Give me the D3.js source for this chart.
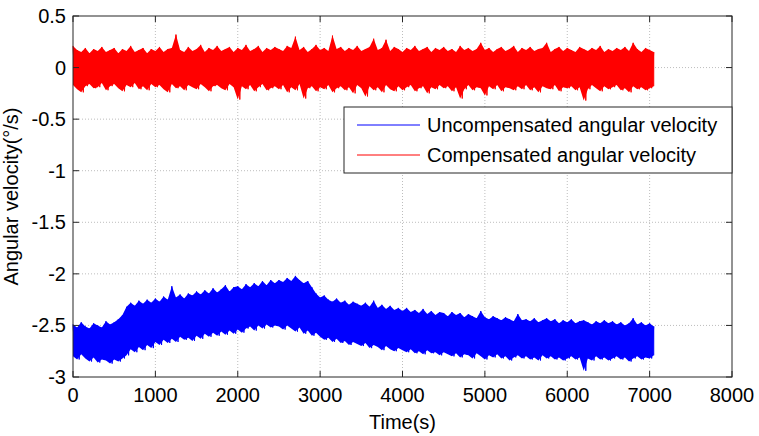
<!DOCTYPE html>
<html>
<head>
<meta charset="utf-8">
<script src="https://cdn.jsdelivr.net/npm/d3@7"></script>
<style>
  body { margin: 0; background: #fff; }
  text { font-family: Arial, "Liberation Sans", Helvetica, sans-serif; fill: #000; }
</style>
</head>
<body>
<svg id="chart" width="759" height="436"></svg>
<script>
// envelope of the two noisy signals, one sample every 50 s from 0 to 7050 s
const SAMPLE_STEP = 50;

const xTicks = [0, 1000, 2000, 3000, 4000, 5000, 6000, 7000, 8000];
const yTicks = [-3, -2.5, -2, -1.5, -1, -0.5, 0, 0.5];

const seriesNames = ["Uncompensated angular velocity", "Compensated angular velocity"];
const seriesColors = ["#0000ff", "#ff0000"];

// compensated (red) - upper and lower excursion
const compHigh = [
  0.21,0.17,0.15,0.19,0.14,0.18,0.16,0.20,0.15,0.17,
  0.19,0.14,0.18,0.16,0.21,0.15,0.17,0.19,0.14,0.18,
  0.16,0.20,0.15,0.18,0.19,0.32,0.17,0.15,0.20,0.16,
  0.18,0.22,0.15,0.19,0.17,0.21,0.16,0.18,0.20,0.15,
  0.19,0.17,0.22,0.16,0.18,0.21,0.15,0.19,0.17,0.20,
  0.18,0.16,0.21,0.19,0.30,0.17,0.20,0.15,0.18,0.22,
  0.17,0.19,0.16,0.31,0.18,0.20,0.16,0.19,0.17,0.21,
  0.16,0.18,0.20,0.28,0.17,0.19,0.27,0.16,0.20,0.18,
  0.15,0.19,0.17,0.21,0.16,0.18,0.20,0.15,0.19,0.17,
  0.20,0.16,0.18,0.15,0.21,0.17,0.19,0.16,0.18,0.24,
  0.17,0.19,0.15,0.18,0.20,0.16,0.18,0.21,0.15,0.19,
  0.17,0.20,0.16,0.18,0.19,0.24,0.15,0.18,0.20,0.16,
  0.19,0.17,0.15,0.20,0.18,0.16,0.19,0.17,0.21,0.15,
  0.18,0.16,0.19,0.17,0.20,0.16,0.24,0.18,0.15,0.19,
  0.17,0.15
];
const compLow = [
  -0.17,-0.21,-0.24,-0.18,-0.16,-0.20,-0.19,-0.15,-0.22,-0.18,
  -0.16,-0.20,-0.23,-0.17,-0.19,-0.15,-0.21,-0.18,-0.22,-0.16,
  -0.19,-0.17,-0.21,-0.24,-0.16,-0.20,-0.18,-0.22,-0.17,-0.19,
  -0.21,-0.16,-0.19,-0.23,-0.18,-0.17,-0.20,-0.22,-0.16,-0.19,
  -0.31,-0.18,-0.21,-0.17,-0.23,-0.19,-0.16,-0.22,-0.20,-0.18,
  -0.21,-0.17,-0.24,-0.19,-0.22,-0.16,-0.30,-0.20,-0.18,-0.23,
  -0.19,-0.21,-0.17,-0.24,-0.20,-0.18,-0.22,-0.19,-0.25,-0.17,
  -0.20,-0.28,-0.18,-0.22,-0.19,-0.24,-0.17,-0.21,-0.23,-0.18,
  -0.22,-0.19,-0.17,-0.23,-0.20,-0.18,-0.25,-0.19,-0.21,-0.17,
  -0.20,-0.18,-0.23,-0.19,-0.30,-0.21,-0.17,-0.22,-0.19,-0.20,
  -0.27,-0.18,-0.21,-0.17,-0.23,-0.19,-0.20,-0.22,-0.18,-0.21,
  -0.17,-0.22,-0.19,-0.24,-0.18,-0.20,-0.21,-0.17,-0.23,-0.19,
  -0.20,-0.18,-0.22,-0.19,-0.32,-0.21,-0.17,-0.20,-0.23,-0.18,
  -0.21,-0.19,-0.17,-0.22,-0.20,-0.24,-0.18,-0.21,-0.19,-0.22,
  -0.20,-0.18
];

// uncompensated (blue) - upper and lower excursion
const uncompHigh = [
  -2.49,-2.52,-2.47,-2.51,-2.53,-2.48,-2.50,-2.52,-2.46,-2.49,
  -2.47,-2.44,-2.40,-2.32,-2.28,-2.31,-2.26,-2.29,-2.25,-2.28,
  -2.24,-2.27,-2.22,-2.25,-2.12,-2.23,-2.20,-2.24,-2.19,-2.21,
  -2.17,-2.20,-2.16,-2.19,-2.14,-2.18,-2.15,-2.11,-2.17,-2.13,
  -2.12,-2.15,-2.10,-2.13,-2.09,-2.12,-2.07,-2.11,-2.06,-2.09,
  -2.06,-2.08,-2.04,-2.07,-2.02,-2.06,-2.09,-2.07,-2.13,-2.19,
  -2.23,-2.21,-2.25,-2.27,-2.24,-2.28,-2.26,-2.30,-2.27,-2.29,
  -2.31,-2.28,-2.32,-2.26,-2.33,-2.30,-2.34,-2.31,-2.35,-2.33,
  -2.36,-2.33,-2.37,-2.35,-2.38,-2.34,-2.39,-2.36,-2.40,-2.37,
  -2.38,-2.41,-2.37,-2.40,-2.38,-2.42,-2.39,-2.41,-2.43,-2.36,
  -2.42,-2.44,-2.41,-2.43,-2.45,-2.42,-2.44,-2.46,-2.39,-2.45,
  -2.44,-2.46,-2.43,-2.47,-2.45,-2.43,-2.46,-2.44,-2.48,-2.45,
  -2.47,-2.44,-2.48,-2.46,-2.45,-2.47,-2.49,-2.46,-2.48,-2.45,
  -2.48,-2.46,-2.49,-2.47,-2.50,-2.48,-2.43,-2.49,-2.47,-2.50,
  -2.48,-2.51
];
const uncompLow = [
  -2.80,-2.83,-2.78,-2.82,-2.85,-2.81,-2.86,-2.83,-2.84,-2.87,
  -2.83,-2.85,-2.82,-2.79,-2.73,-2.76,-2.71,-2.74,-2.69,-2.72,
  -2.66,-2.69,-2.64,-2.67,-2.63,-2.66,-2.61,-2.64,-2.62,-2.65,
  -2.60,-2.63,-2.58,-2.61,-2.57,-2.60,-2.56,-2.59,-2.55,-2.58,
  -2.54,-2.57,-2.53,-2.51,-2.55,-2.50,-2.53,-2.49,-2.52,-2.50,
  -2.51,-2.54,-2.50,-2.53,-2.56,-2.52,-2.58,-2.55,-2.60,-2.57,
  -2.61,-2.64,-2.62,-2.66,-2.63,-2.67,-2.65,-2.69,-2.66,-2.68,
  -2.70,-2.67,-2.72,-2.69,-2.71,-2.74,-2.70,-2.73,-2.75,-2.72,
  -2.74,-2.76,-2.73,-2.77,-2.75,-2.78,-2.74,-2.77,-2.76,-2.79,
  -2.76,-2.78,-2.80,-2.77,-2.81,-2.78,-2.79,-2.82,-2.77,-2.80,
  -2.83,-2.79,-2.81,-2.78,-2.82,-2.80,-2.84,-2.81,-2.79,-2.82,
  -2.80,-2.83,-2.81,-2.84,-2.79,-2.82,-2.80,-2.83,-2.81,-2.84,
  -2.82,-2.80,-2.83,-2.81,-2.94,-2.82,-2.84,-2.80,-2.83,-2.81,
  -2.84,-2.82,-2.80,-2.83,-2.81,-2.85,-2.82,-2.80,-2.83,-2.81,
  -2.82,-2.79
];

const WIDTH = 759, HEIGHT = 436;
const PLOT = { left: 73, right: 732, top: 16, bottom: 377 };
const FONT_SIZE = 20;
const AXIS_COLOR = "#262626";
const TICK_LEN = 6;

const svg = d3.select("#chart");

const xScale = d3.scaleLinear().domain([0, 8000]).range([PLOT.left, PLOT.right]);
const yScale = d3.scaleLinear().domain([-3, 0.5]).range([PLOT.bottom, PLOT.top]);

// grid (dotted, like matlab "grid on")
const grid = svg.append("g").attr("class", "grid");
grid.selectAll("line.gx")
  .data(xTicks.slice(1, -1))
  .enter().append("line")
  .attr("x1", d => xScale(d)).attr("x2", d => xScale(d))
  .attr("y1", PLOT.top).attr("y2", PLOT.bottom)
  .attr("stroke", "#bdbdbd").attr("stroke-width", 1)
  .attr("stroke-dasharray", "1,2");
grid.selectAll("line.gy")
  .data(yTicks.slice(1, -1))
  .enter().append("line")
  .attr("y1", d => yScale(d)).attr("y2", d => yScale(d))
  .attr("x1", PLOT.left).attr("x2", PLOT.right)
  .attr("stroke", "#bdbdbd").attr("stroke-width", 1)
  .attr("stroke-dasharray", "1,2");

// zigzag between upper and lower excursion so the trace looks like dense noise
function zigzag(high, low)
{
  let pts = [];
  for (let i = 0; i < high.length; i++)
  {
    let t = i * SAMPLE_STEP;
    pts.push([t, high[i]]);
    if (i < high.length - 1) pts.push([t + SAMPLE_STEP / 2, low[i]]);
    else pts.push([t, low[i]]);
  }
  return pts;
}

function envelope(high, low)
{
  return high.map((h, i) => ({ t: i * SAMPLE_STEP, hi: h, lo: low[i] }));
}

const lineGen = d3.line()
  .x(d => xScale(d[0]))
  .y(d => yScale(d[1]));

const areaGen = d3.area()
  .x(d => xScale(d.t))
  .y0(d => yScale(d.lo))
  .y1(d => yScale(d.hi));

const lines = svg.append("g").attr("id", "lines");
[[uncompHigh, uncompLow], [compHigh, compLow]].forEach((s, i) => {
  // solid body of the noise band
  lines.append("path")
    .datum(envelope(s[0], s[1]))
    .attr("d", areaGen)
    .attr("fill", seriesColors[i])
    .attr("stroke", "none");
  // the trace itself
  lines.append("path")
    .datum(zigzag(s[0], s[1]))
    .attr("d", lineGen)
    .attr("fill", "none")
    .attr("stroke", seriesColors[i])
    .attr("stroke-width", 1)
    .attr("stroke-linejoin", "bevel");
});

// box + inward ticks on all four sides
const axes = svg.append("g").attr("id", "axes");
axes.append("rect")
  .attr("x", PLOT.left).attr("y", PLOT.top)
  .attr("width", PLOT.right - PLOT.left).attr("height", PLOT.bottom - PLOT.top)
  .attr("fill", "none").attr("stroke", AXIS_COLOR).attr("stroke-width", 1);

xTicks.forEach(d => {
  let x = xScale(d);
  axes.append("line").attr("x1", x).attr("x2", x)
    .attr("y1", PLOT.bottom).attr("y2", PLOT.bottom - TICK_LEN).attr("stroke", AXIS_COLOR);
  axes.append("line").attr("x1", x).attr("x2", x)
    .attr("y1", PLOT.top).attr("y2", PLOT.top + TICK_LEN).attr("stroke", AXIS_COLOR);
  axes.append("text")
    .attr("x", x).attr("y", PLOT.bottom + 25)
    .attr("text-anchor", "middle")
    .style("font-size", FONT_SIZE + "px")
    .text(d);
});

yTicks.forEach(d => {
  let y = yScale(d);
  axes.append("line").attr("y1", y).attr("y2", y)
    .attr("x1", PLOT.left).attr("x2", PLOT.left + TICK_LEN).attr("stroke", AXIS_COLOR);
  axes.append("line").attr("y1", y).attr("y2", y)
    .attr("x1", PLOT.right).attr("x2", PLOT.right - TICK_LEN).attr("stroke", AXIS_COLOR);
  axes.append("text")
    .attr("x", PLOT.left - 7).attr("y", y + 7)
    .attr("text-anchor", "end")
    .style("font-size", FONT_SIZE + "px")
    .text(d);
});

// axis titles
svg.append("text")
  .attr("x", (PLOT.left + PLOT.right) / 2).attr("y", 429)
  .attr("text-anchor", "middle")
  .style("font-size", FONT_SIZE + "px")
  .text("Time(s)");

svg.append("text")
  .attr("transform", "translate(18," + ((PLOT.top + PLOT.bottom) / 2) + ") rotate(-90)")
  .attr("text-anchor", "middle")
  .style("font-size", FONT_SIZE + "px")
  .text("Angular velocity(°/s)");

// legend, top right
const legend = svg.append("g").attr("id", "legend");
legend.append("rect")
  .attr("x", 344).attr("y", 107)
  .attr("width", PLOT.right - 344).attr("height", 66)
  .attr("fill", "#fff").attr("stroke", AXIS_COLOR).attr("stroke-width", 1);

seriesNames.forEach((name, i) => {
  let y = 125 + i * 30;
  legend.append("line")
    .attr("x1", 357).attr("x2", 420)
    .attr("y1", y).attr("y2", y)
    .attr("stroke", seriesColors[i]).attr("stroke-width", 1);
  legend.append("text")
    .attr("x", 427).attr("y", y + 7)
    .style("font-size", FONT_SIZE + "px")
    .text(name);
});
</script>
</body>
</html>
